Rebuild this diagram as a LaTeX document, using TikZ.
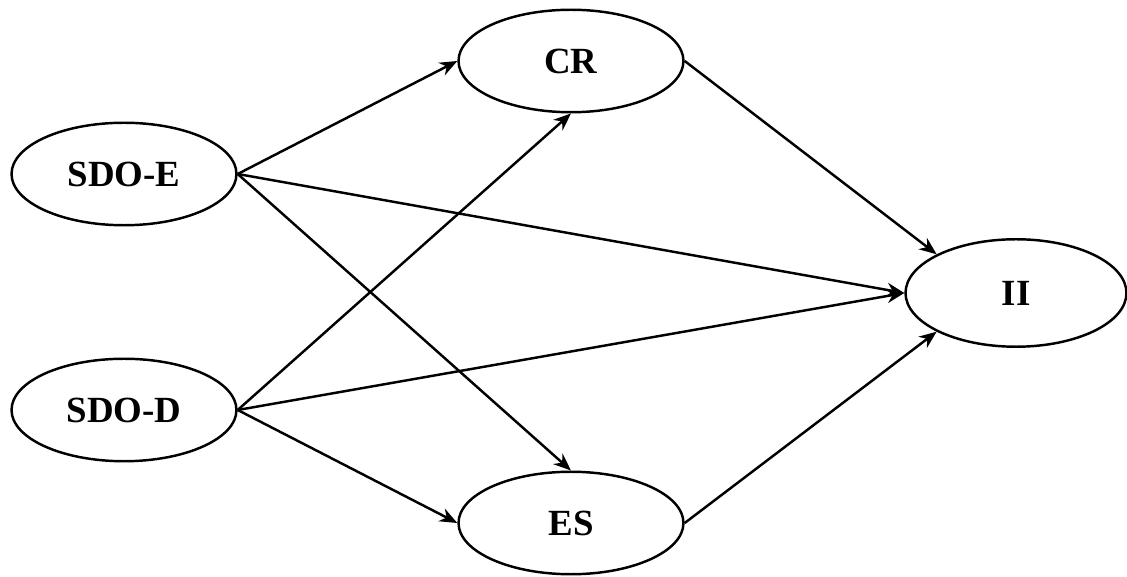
\documentclass[tikz,border=0pt]{standalone}
\usepackage{fontspec}
\setmainfont{Liberation Serif}
\usetikzlibrary{shapes.geometric,arrows.meta}

\tikzset{
    construct/.style={draw, ellipse, line width=1.4pt, inner sep=0pt,
        minimum width=4.5cm, minimum height=2.05cm,
        font=\fontsize{21}{24}\selectfont\bfseries},
    path/.style={line width=1.4pt, -{Stealth[length=10pt,width=8pt]}}
}

\begin{document}
\begin{tikzpicture}[x=0.02cm, y=-0.02cm]
    \useasboundingbox (0,0) rectangle (1127,577);

    \node[construct] (sdoe) at (124,174) {SDO-E};
    \node[construct] (sdod) at (124,410) {SDO-D};
    \node[construct] (cr) at (571,61) {CR};
    \node[construct] (es) at (571,523) {ES};
    \node[construct, minimum width=4.42cm, minimum height=2.15cm] (ii) at (1016,293) {II};

    % paths from the predictors
    \draw[path] (sdoe.east) -- (cr.west);
    \draw[path] (sdoe.east) -- (es.north);
    \draw[path] (sdoe.east) -- (ii.west);
    \draw[path] (sdod.east) -- (cr.south);
    \draw[path] (sdod.east) -- (ii.west);
    \draw[path] (sdod.east) -- (es.west);

    % paths to the outcome
    \draw[path] (cr.east) -- (ii.154);
    \draw[path] (es.east) -- (ii.206);
\end{tikzpicture}
\end{document}
